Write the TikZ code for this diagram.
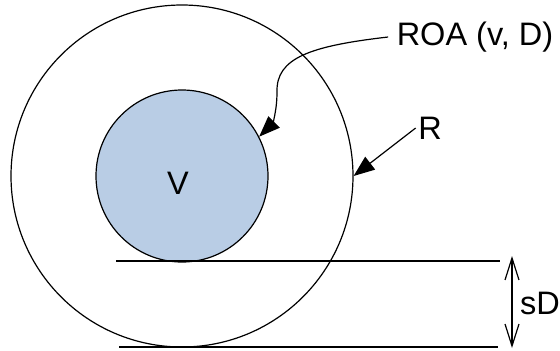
\documentclass[tikz,border=0pt]{standalone}
\usepackage{fontspec}
\setmainfont{Liberation Sans}
\usepackage{tikz}
\usetikzlibrary{arrows.meta, positioning}
\definecolor{roablue}{RGB}{185,205,229}
\tikzstyle{lbl} = [font=\fontsize{32.5}{38}\selectfont, text=black]
\tikzstyle{pointer} = [line width=1.2pt, -{Triangle[length=21pt,width=16pt]}]
\tikzstyle{dim} = [line width=1.2pt, {Straight Barb[length=22pt,width=14pt]}-{Straight Barb[length=22pt,width=14pt]}]

\begin{document}
\begin{tikzpicture}[x=1pt, y=-1pt, line width=1.2pt]
\useasboundingbox (0,0) rectangle (560,351);

\node[
    draw,
    circle,
    minimum size=342pt,
    inner sep=0pt
] (outer) at (182,176) {};

\node[
    draw,
    circle,
    fill=roablue,
    minimum size=172pt,
    inner sep=0pt
] (inner) at (182,176) {};
\node[lbl] (v) at (178,183) {V};

% tangent lines
\coordinate (topa) at (116,261);
\coordinate (topb) at (500,261);
\coordinate (bota) at (119,347);
\coordinate (botb) at (498,347);
\draw (topa) -- (topb);
\draw (bota) -- (botb);

\node[lbl, inner sep=8pt] (roa) at (475,37) {ROA (v, D)};
\node[lbl, inner sep=2pt] (r) at (430,128) {R};
\node[lbl] (sd) at (540,303) {sD};

\draw[pointer] (roa.west) .. controls (310,46) and (276,58) .. (277,92)
    .. controls (277,112) and (272,124) .. (inner.27);
\draw[pointer] (r.west) -- (outer.east);

% spacing
\coordinate (sdtop) at (512,256);
\coordinate (sdbot) at (512,348);
\draw[dim] (sdtop) -- (sdbot);

\end{tikzpicture}
\end{document}
